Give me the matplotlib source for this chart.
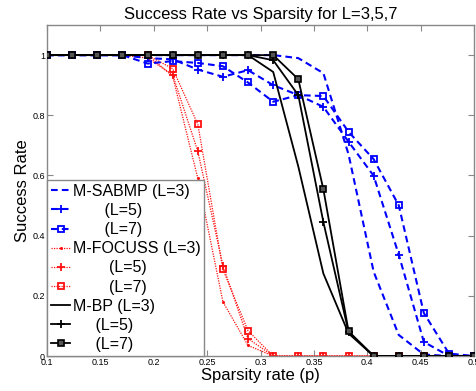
import numpy as np
import matplotlib
matplotlib.use('Agg')
import matplotlib.pyplot as plt

plt.rcParams['font.family'] = ['Liberation Sans', 'DejaVu Sans']

# sparsity rate p
sparsity = [0.1, 0.1235, 0.1471, 0.1706, 0.1941, 0.2176, 0.2412, 0.2647, 0.2882,
            0.3118, 0.3353, 0.3588, 0.3824, 0.4059, 0.4294, 0.4529, 0.4765, 0.5]

# success rates
sabmp_l3 = [1, 1, 1, 1, 1, 1, 1, 1, 1, 1, 0.99, 0.94, 0.67, 0.28, 0.07, 0.005, 0, 0]
sabmp_l5 = [1, 1, 1, 1, 0.99, 0.986, 0.952, 0.928, 0.95, 0.90, 0.867, 0.828, 0.712, 0.599, 0.337, 0.047, 0, 0]
sabmp_l7 = [1, 1, 1, 1, 0.972, 0.98, 0.974, 0.963, 0.909, 0.845, 0.867, 0.864, 0.745, 0.654, 0.501, 0.143, 0.008, 0]

focuss_l3 = [1, 1, 1, 1, 1, 0.93, 0.59, 0.18, 0.035, 0, 0, 0, 0, 0, 0, 0, 0, 0]
focuss_l5 = [1, 1, 1, 1, 0.99, 0.935, 0.68, 0.30, 0.058, 0, 0, 0, 0, 0, 0, 0, 0, 0]
focuss_l7 = [1, 1, 1, 1, 1, 0.955, 0.77, 0.288, 0.084, 0, 0, 0, 0, 0, 0, 0, 0, 0]

bp_l3 = [1, 1, 1, 1, 1, 1, 1, 1, 1, 0.944, 0.63, 0.274, 0.075, 0, 0, 0, 0, 0]
bp_l5 = [1, 1, 1, 1, 1, 1, 1, 1, 1, 0.983, 0.867, 0.445, 0.08, 0, 0, 0, 0, 0]
bp_l7 = [1, 1, 1, 1, 1, 1, 1, 1, 1, 1, 0.92, 0.554, 0.082, 0, 0, 0, 0, 0]

labels = ['M-SABMP (L=3)', '       (L=5)', '       (L=7)',
          'M-FOCUSS (L=3)', '        (L=5)', '        (L=7)',
          'M-BP (L=3)', '     (L=5)', '     (L=7)']

fig = plt.figure(figsize=(4.76, 3.91), dpi=100)
ax = fig.add_axes([0.099, 0.0895, 0.897, 0.8465])

ms = 4.5
b = dict(color='#0000ff', ls=(0, (3.2, 2)), lw=1.5, zorder=3)
r = dict(color='#ff1010', ls=(0, (1, 1)), lw=0.9, zorder=2)
k = dict(color='black', ls='-', lw=1.3, zorder=4)

ax.plot(sparsity, sabmp_l3, label=labels[0], **b)
ax.plot(sparsity, sabmp_l5, marker='+', ms=ms + 1, mew=1.3, label=labels[1], **b)
ax.plot(sparsity, sabmp_l7, marker='s', ms=ms, mfc='none', mew=1.3, label=labels[2], **b)
ax.plot(sparsity, focuss_l3, marker='.', ms=2.5, label=labels[3], **r)
ax.plot(sparsity, focuss_l5, marker='+', ms=ms + 1, mew=1.3, label=labels[4], **r)
ax.plot(sparsity, focuss_l7, marker='s', ms=ms, mfc='none', mew=1.3, label=labels[5], **r)
ax.plot(sparsity, bp_l3, label=labels[6], **k)
ax.plot(sparsity, bp_l5, marker='+', ms=ms + 1, mew=1.3, label=labels[7], **k)
ax.plot(sparsity, bp_l7, marker='s', ms=ms, mfc='#555555', mew=1.2, label=labels[8], **k)

ax.set_xlim(0.1, 0.5)
ax.set_ylim(0, 1.1)
ax.set_xticks([0.1, 0.15, 0.2, 0.25, 0.3, 0.35, 0.4, 0.45, 0.5])
ax.set_xticklabels(['0.1', '0.15', '0.2', '0.25', '0.3', '0.35', '0.4', '0.45', '0.5'])
ax.set_yticks([0, 0.2, 0.4, 0.6, 0.8, 1])
ax.set_yticklabels(['0', '0.2', '0.4', '0.6', '0.8', '1'])
ax.tick_params(direction='in', length=4, width=0.8, color='#888888', labelsize=6.5,
               pad=1.5, top=True, right=True)
for s in ax.spines.values():
    s.set_color('#888888')
    s.set_linewidth(1)

ax.set_title('Success Rate vs Sparsity for L=3,5,7', fontsize=12, pad=4)
ax.set_xlabel('Sparsity rate (p)', fontsize=12, labelpad=1)
ax.set_ylabel('Success Rate', fontsize=12, labelpad=2)

leg = ax.legend(loc='lower left', fontsize=11.5, frameon=True, fancybox=False,
                framealpha=1, edgecolor='#888888', borderaxespad=0,
                borderpad=0.25, labelspacing=0.26, handlelength=1.2,
                handletextpad=0.15)
leg.get_frame().set_linewidth(1)
leg.set_zorder(10)

fig.savefig('out.png', dpi=100)
